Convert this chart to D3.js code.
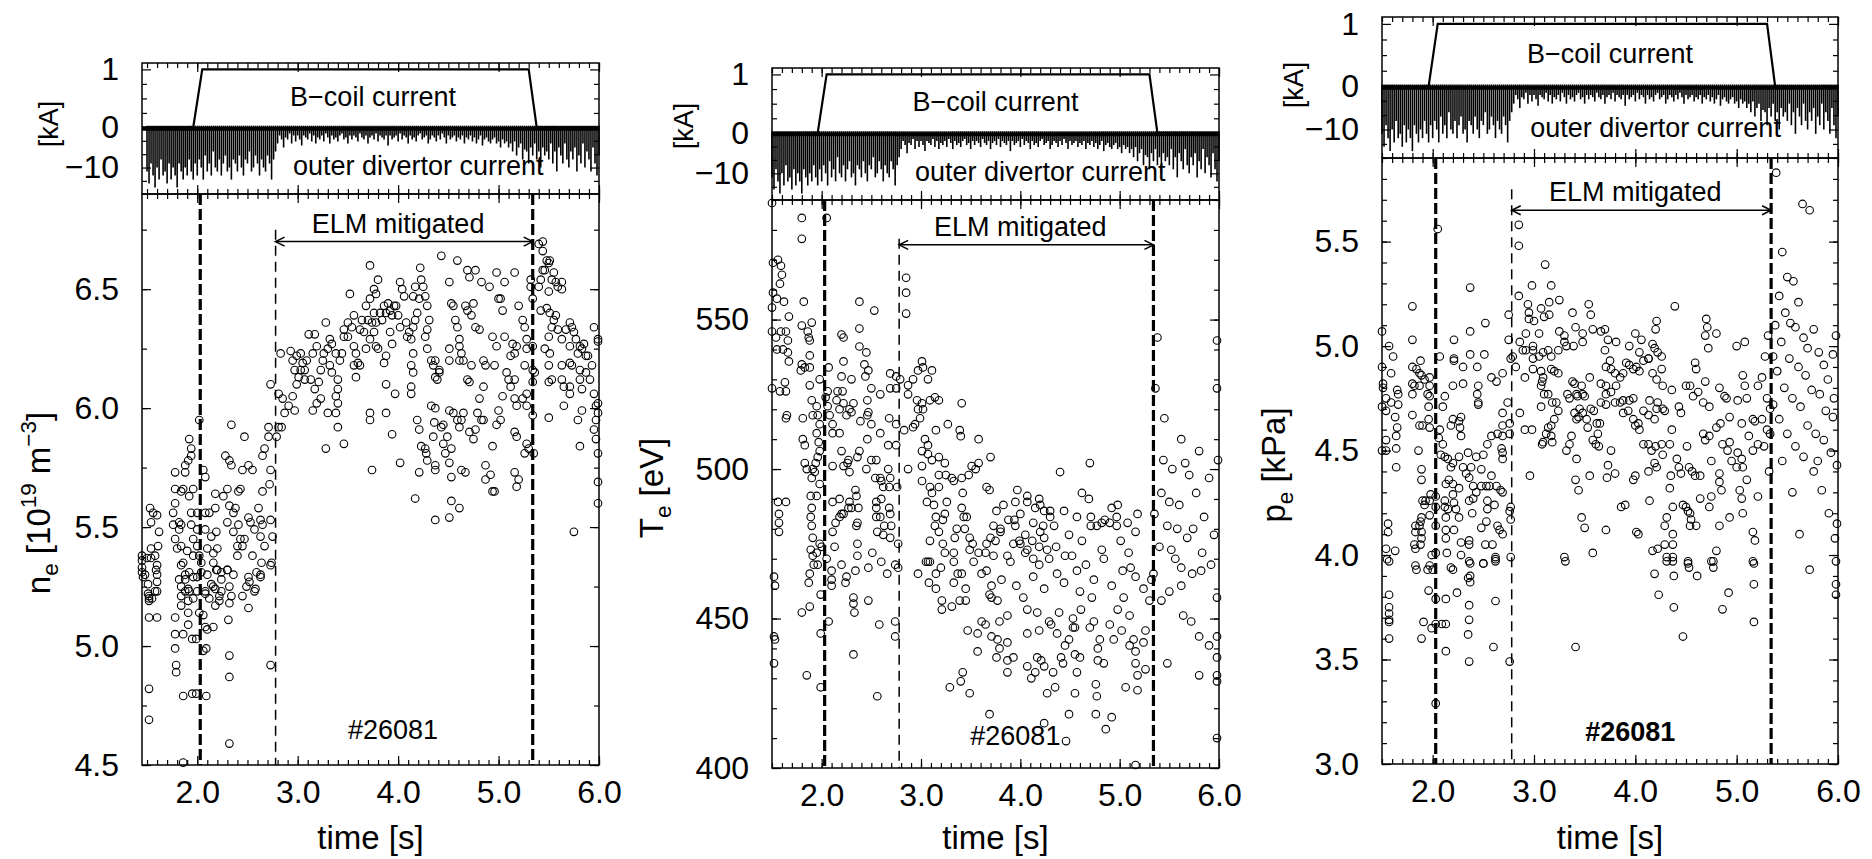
<!DOCTYPE html>
<html>
<head>
<meta charset="utf-8">
<script src="https://cdn.jsdelivr.net/npm/d3@7"></script>
<style>
body { margin: 0; background: #fff; }
svg text { font-family: "Liberation Sans", Arial, sans-serif; fill: #000; }
.axis text { font-size: 32px; font-family: "Liberation Sans", Arial, sans-serif; }
.axis line { stroke: #000; stroke-width: 1.2; }
</style>
</head>
<body>
<svg id="chart" width="1872" height="859"></svg>
<script>
///
/// DATA
///

const timeTicks = [2, 3, 4, 5, 6];
const neTicks = [4.5, 5.0, 5.5, 6.0, 6.5];
const teTicks = [400, 450, 500, 550];
const peTicks = [3.0, 3.5, 4.0, 4.5, 5.0, 5.5];
const kaTicks = [-10, 0, 1];
const kaMinor = [-13.33, -6.67, -3.33, 0.25, 0.5, 0.75];

// B-coil current [kA]
const bcoilCurrent = [[1.45, 0], [1.96, 0], [2.05, 1], [5.30, 1], [5.38, 0], [6.0, 0]];

// outer divertor current [kA], spike minima every 20 ms from 1.50 s
const divertorStart = 1.5;
const divertorStep = 0.02;
const divertorCurrent = [
  -11,-14,-9,-12,-15,-10,-13,-8,-12,-11,
  -14,-9,-13,-10,-12,-15,-9,-11,-13,-10,
  -12,-8,-11,-13,-9,-12,-8,-10,-13,-7,
  -11,-9,-12,-6,-10,-11,-8,-12,-9,-7,
  -11,-10,-13,-8,-9,-11,-7,-10,-12,-8,
  -9,-6,-11,-10,-7,-9,-12,-8,-10,-11,
  -7,-9,-13,-8,-6,-4,-2,-3,-5,-2.5,
  -3,-1.5,-4,-2,-3.5,-2,-3,-4.5,-2,-2.5,
  -3,-1.5,-3.5,-2,-4,-2.5,-3,-2,-3.5,-1.5,
  -2.5,-4,-2,-3,-2.5,-3.5,-2,-1.5,-3,-2.5,
  -4,-2,-3,-2,-2.5,-3.5,-1.5,-2.5,-3,-2,
  -4,-2.5,-2,-3,-1.5,-3.5,-2,-2.5,-3,-2,
  -4.5,-2,-3,-2.5,-2,-3.5,-1.5,-3,-2,-2.5,
  -4,-2,-3,-2.5,-3.5,-2,-1.5,-3,-2.5,-2,
  -4,-3,-2,-2.5,-3.5,-2,-3,-1.5,-2.5,-4,
  -2,-3,-2.5,-2,-3.5,-2.5,-3,-2,-4,-2.5,
  -3,-2,-3.5,-2.5,-4,-3,-2,-4.5,-3,-2.5,
  -3.5,-4,-3,-2.5,-4,-3.5,-5,-3,-4,-3.5,
  -5,-4,-6,-3.5,-7,-5,-4,-8,-5.5,-6,
  -9,-5,-7,-4,-8,-6,-10,-5,-7,-6,
  -8,-4,-9,-6,-11,-5,-7,-9,-4,-8,
  -10,-6,-8,-5,-11,-7,-9,-4,-10,-6,
  -8,-11,-5,-9,-12,-7
];

// phase markers [s]
const rmpOn = 2.03;
const rmpOff = 5.34;
const elmStart = 2.78;
const shotLabel = "#26081";

// electron density [1e19 m^-3]
const neData = [
  [1.45,5.38],[1.45,5.33],[1.48,5.30],[1.51,5.26],[1.51,5.22],[1.52,5.20],[1.58,5.23],[1.60,5.30],[1.60,5.34],[1.54,5.41],
  [1.61,5.42],[1.62,5.48],[1.56,5.56],[1.53,5.58],[1.60,5.55],[1.54,5.52],[1.50,5.37],[1.45,5.31],[1.54,5.37],[1.58,5.38],
  [1.45,5.36],[1.46,5.29],[1.52,5.21],[1.52,5.19],[1.52,5.12],[1.60,5.12],[1.60,5.23],[1.60,5.27],[1.59,5.32],[1.52,4.82],
  [1.52,4.69],[1.55,5.20],
  [1.78,5.73],[1.78,5.66],[1.78,5.60],[1.76,5.56],[1.76,5.51],[1.78,5.45],[1.80,5.41],[1.82,5.52],[1.84,5.65],[1.86,5.66],
  [1.88,5.73],[1.88,5.76],[1.91,5.78],[1.92,5.87],[1.94,5.83],[1.94,5.80],[1.96,5.66],[1.92,5.63],[1.94,5.56],[1.84,5.51],
  [1.82,5.49],[1.84,5.42],[1.86,5.35],[1.84,5.34],[1.88,5.30],[1.92,5.31],[1.84,5.25],[1.88,5.23],[1.92,5.23],[1.96,5.20],
  [1.82,5.28],[1.94,5.51],[1.96,5.45],[1.90,5.40],[1.96,5.38],
  [1.78,5.12],[1.78,5.05],[1.78,4.99],[1.79,4.92],[1.79,4.89],[1.86,5.05],[1.84,5.17],[1.84,5.21],[1.91,5.24],[1.91,5.19],
  [1.91,5.14],[1.91,5.09],[1.95,5.03],[1.86,4.79],[1.95,4.80],[1.86,4.51],[1.88,5.28],[1.96,5.29],
  [2.02,5.95],[2.00,5.56],[2.00,5.49],[2.00,5.42],[2.02,5.38],[2.04,5.35],[2.06,5.74],[2.08,5.71],[2.08,5.56],[2.08,5.49],
  [2.10,5.41],[2.12,5.56],[2.14,5.46],[2.16,5.39],[2.16,5.35],[2.18,5.64],[2.18,5.58],[2.19,5.48],[2.20,5.41],[2.20,5.32],
  [2.10,5.30],[2.08,5.23],[2.14,5.26],[2.12,5.20],[2.18,5.24],[2.22,5.21],
  [2.00,5.29],[2.00,5.23],[2.04,5.31],[2.02,5.14],[2.06,5.13],[2.08,5.22],[2.06,4.98],[2.09,4.99],[2.09,4.79],[1.99,4.80],
  [1.99,5.03],[2.10,5.07],[2.08,5.08],[2.16,5.08],[2.18,5.17],[2.16,5.25],[2.19,5.32],
  [2.28,5.80],[2.34,5.93],[2.32,5.78],[2.34,5.76],[2.30,5.66],[2.26,5.63],[2.32,5.59],[2.36,5.56],[2.38,5.58],[2.41,5.65],
  [2.43,5.66],[2.45,5.74],[2.47,5.88],[2.51,5.76],[2.55,5.74],[2.41,5.51],[2.43,5.45],[2.36,5.48],[2.30,5.52],[2.40,5.42],
  [2.45,5.42],[2.47,5.45],[2.51,5.54],[2.53,5.52],[2.57,5.49],[2.61,5.58],[2.63,5.53],[2.65,5.65],[2.65,5.80],[2.67,5.83],
  [2.71,5.88],[2.71,5.92],[2.73,5.74],[2.72,5.68],[2.65,5.51],[2.63,5.46],[2.67,5.42],[2.73,5.53],[2.75,5.46],[2.74,5.35],
  [2.59,5.31],[2.55,5.38],[2.40,5.38],[2.36,5.30],[2.30,5.32],[2.24,5.28],[2.24,5.23],[2.32,5.18],[2.45,5.21],[2.49,5.25],
  [2.51,5.29],[2.63,5.30],
  [2.24,5.31],[2.30,5.32],[2.32,5.25],[2.34,5.21],[2.22,5.19],[2.31,5.11],[2.32,4.96],[2.32,4.87],[2.32,4.59],[2.51,5.16],
  [2.52,5.27],[2.58,5.24],[2.63,5.29],[2.57,5.23],[2.64,5.35],[2.73,5.34],[2.73,4.92],
  [2.79,5.88],[2.81,5.92],[2.84,5.92],[2.83,6.23],[2.93,6.24],[2.73,6.10],[2.81,6.06],[2.85,6.04],[2.87,5.98],[2.91,6.01],
  [2.95,6.05],[2.95,6.20],[2.97,6.16],[2.99,6.10],[3.01,6.13],[3.03,6.16],[3.05,6.19],[3.07,6.16],[3.09,6.20],[3.11,6.31],
  [3.17,6.31],[3.19,6.26],[3.15,6.23],[3.13,6.12],[3.17,6.08],[3.21,6.11],[3.23,6.16],[3.25,6.20],[3.26,6.23],[3.28,6.36],
  [3.30,6.25],[3.32,6.29],[3.32,6.18],[3.38,6.23],[3.42,6.20],[3.40,6.12],[3.40,6.08],[3.38,6.05],[3.40,6.02],[3.38,5.98],
  [3.40,5.92],[3.30,5.98],[3.28,5.83],[3.46,5.85],[3.52,6.48],[3.46,6.33],[3.50,6.30],[3.54,6.34],[3.56,6.26],[3.58,6.23],
  [3.60,6.19],[3.62,6.18],[3.58,6.13],[3.56,6.18],[3.44,6.23],[3.34,6.27],[3.03,6.23],[2.99,6.22],[3.07,6.12],[2.97,5.99],
  [3.15,5.99],[3.19,6.02],[3.23,6.04],[3.34,6.15],[3.46,6.30],[3.50,6.36],[3.56,6.39],[3.62,6.33],[3.64,6.37],[3.66,6.32],
  [3.68,6.43],[3.72,6.46],[3.76,6.50],[3.78,6.48],[3.80,6.54],[3.82,6.40],[3.84,6.37],[3.86,6.43],[3.88,6.40],[3.90,6.44],
  [3.92,6.41],[3.94,6.39],[3.96,6.43],[3.72,6.60],[3.72,5.98],[3.72,5.95],[3.74,5.74],[3.88,6.10],[3.88,5.98],[3.94,5.89],
  [3.97,6.06],[3.76,6.32],[3.78,6.26],[3.72,6.29],[3.68,6.25],[3.88,6.22],[3.86,6.19],[3.92,6.32],[3.94,6.27],[3.74,6.36],
  [3.76,6.40],[3.70,6.37],[3.78,6.36],[3.80,6.25],
  [3.98,6.43],[4.00,6.39],[4.02,6.34],[4.02,6.53],[4.04,6.50],[4.06,6.47],[4.08,6.36],[4.09,6.30],[4.11,6.32],[4.13,6.29],
  [4.13,6.18],[4.15,6.15],[4.13,6.09],[4.13,6.06],[4.15,6.23],[4.15,6.34],[4.17,6.37],[4.19,6.40],[4.21,6.46],[4.22,6.59],
  [4.23,6.54],[4.25,6.51],[4.27,6.47],[4.29,6.43],[4.31,6.37],[4.29,6.33],[4.27,6.30],[4.29,6.25],[4.33,6.20],[4.35,6.18],
  [4.37,6.20],[4.37,6.13],[4.39,6.12],[4.41,6.15],[4.17,6.51],[4.15,6.47],[4.02,5.77],[4.19,5.95],[4.21,5.91],[4.21,5.73],
  [4.17,5.62],[4.23,5.84],[4.27,5.83],[4.28,5.81],[4.29,5.78],[4.33,6.01],[4.37,6.00],[4.35,5.88],[4.36,5.94],[4.37,5.76],
  [4.37,5.74],[4.37,5.53],[4.41,6.16],[4.43,5.92],[4.45,5.93],[4.45,5.85],[4.47,5.81],[4.43,6.64],[4.49,5.88],[4.51,5.99],
  [4.53,5.83],[4.51,5.77],[4.53,5.61],[4.51,5.54],[4.53,5.71],[4.59,6.62],[4.61,5.58],[4.55,5.98],[4.59,5.95],[4.61,5.92],
  [4.63,5.95],[4.65,5.98],[4.51,6.53],[4.53,6.44],[4.55,6.43],[4.57,6.37],[4.59,6.34],[4.61,6.29],[4.63,6.23],[4.65,6.20],
  [4.69,6.58],[4.77,6.58],[4.71,6.55],[4.67,6.43],[4.69,6.41],[4.75,6.44],[4.73,6.39],[4.77,6.34],[4.81,6.33],[4.61,6.26],
  [4.51,6.25],[4.51,6.20],[4.61,6.20],[4.69,6.12],[4.71,6.11],[4.73,6.18],[4.83,6.53],[4.91,6.51],[4.63,5.74],[4.67,5.73],
  [4.71,5.90],[4.75,5.87],[4.77,5.91],[4.79,5.98],[4.81,6.04],[4.85,6.09],[4.85,6.20],[4.87,6.18],[4.83,5.95],[4.85,5.95],
  [4.87,5.76],[4.92,5.72],[4.87,5.70],[4.94,5.84],[4.98,6.57],[5.00,6.46],[5.04,6.41],[5.02,6.46],[5.06,6.53],[5.08,6.15],
  [5.10,6.12],[5.12,6.09],[5.16,6.12],[5.12,6.22],[5.16,6.23],[5.18,6.26],[5.00,5.99],[5.02,5.95],[4.98,5.93],[5.04,6.05],
  [4.96,6.18],[4.94,6.30],[4.98,6.26],[5.06,6.30],[5.14,6.27],[5.16,6.04],[5.18,6.01],[5.16,5.90],[5.18,5.88],[5.20,5.70],
  [5.18,5.67],[4.96,5.65],[4.94,5.65],[5.16,5.73],
  [5.16,6.57],[5.20,6.43],[5.24,6.37],[5.26,6.34],[5.28,6.29],[5.28,6.25],[5.26,6.18],[5.28,6.06],[5.24,6.04],[5.28,6.01],
  [5.28,5.85],[5.30,5.83],[5.26,5.81],[5.32,6.54],[5.32,6.51],[5.34,6.46],[5.34,6.26],[5.34,6.16],[5.36,6.15],[5.34,6.11],
  [5.34,5.97],[5.35,5.81],[5.40,6.69],[5.44,6.70],[5.44,6.66],[5.48,6.62],[5.50,6.61],[5.46,6.58],[5.51,6.62],[5.53,6.54],
  [5.55,6.57],[5.57,6.53],[5.59,6.51],[5.63,6.53],[5.63,6.50],[5.44,6.58],[5.42,6.54],[5.40,6.51],[5.42,6.41],[5.50,6.49],
  [5.48,6.42],[5.51,6.40],[5.53,6.34],[5.55,6.37],[5.57,6.39],[5.50,6.30],[5.46,6.25],[5.51,6.23],[5.50,6.18],[5.50,6.11],
  [5.50,5.96],[5.53,6.12],[5.59,6.33],[5.63,6.29],[5.63,6.18],[5.63,6.12],[5.65,6.09],[5.65,6.01],[5.67,6.33],[5.71,6.26],
  [5.71,6.36],[5.73,6.34],[5.75,6.32],[5.77,6.29],[5.71,6.19],[5.79,6.23],[5.81,6.26],[5.83,6.25],[5.85,6.27],[5.87,6.22],
  [5.89,6.22],[5.91,6.12],[5.95,6.06],[5.97,6.01],[5.99,6.02],[5.99,5.98],[5.95,5.91],[5.97,5.95],[5.97,5.87],[5.99,5.81],
  [5.99,5.69],[5.99,5.60],[5.81,6.16],[5.81,6.12],[5.83,6.08],[5.83,5.99],[5.79,5.95],[5.81,5.84],[5.75,5.48],[5.71,6.06],
  [5.73,6.18],[5.71,6.09],[5.87,6.15],[5.93,6.18],[5.99,6.29],[5.95,6.34],[5.99,6.28]
];

// electron temperature [eV]
const teData = [
  [1.50,589],[1.80,584],[1.80,577],[2.05,584],[1.51,569],[1.56,570],[1.59,568],[1.60,565],[1.58,562],[1.51,559],
  [1.55,557],[1.62,556],[1.50,554],[1.67,551],[1.82,556],[1.80,548],[1.90,549],[1.86,546],[1.87,544],[1.88,543],
  [1.50,546],[1.54,544],[1.59,546],[1.64,546],[1.66,543],[1.55,540],[1.61,540],[1.66,539],[1.67,536],[1.88,538],
  [1.80,535],[1.79,533],[1.83,534],[1.88,534],[1.98,530],[1.63,529],[2.07,534],[2.20,545],[2.22,544],[2.22,536],
  [2.20,531],[2.30,530],[2.38,556],[2.38,547],[2.53,553],[2.38,541],[2.45,539],[2.43,535],[2.47,533],[2.44,531],
  [2.69,532],[2.75,531],[2.79,530],[2.85,564],[2.85,559],[2.85,552],[3.01,536],[2.97,533],[3.02,534],[3.11,533],
  [3.07,530],[2.92,530],[2.87,528],
  [1.49,527],[1.58,526],[1.64,526],[1.64,517],[1.65,518],[1.56,489],[1.57,485],[1.57,482],[1.57,479],[1.64,489],
  [1.81,517],[1.81,510],[1.83,508],[1.83,502],[1.85,500],[1.88,528],[1.90,523],[1.91,518],[1.95,521],[1.96,518],
  [1.98,515],[1.95,512],[1.97,509],[1.98,506],[1.96,504],[1.94,502],[1.91,500],[1.90,497],[1.93,499],[1.98,495],
  [1.89,491],[1.95,491],[1.90,487],[1.89,484],[1.90,481],[1.91,477],[1.98,475],[2.00,474],[1.89,473],[1.91,471],
  [1.95,472],[1.96,468],
  [2.04,524],[2.06,526],[2.06,521],[2.08,518],[2.11,515],[2.11,512],[2.11,501],[2.15,523],[2.16,526],[2.18,520],
  [2.21,526],[2.22,522],[2.28,520],[2.30,519],[2.32,522],[2.25,518],[2.18,512],[2.20,506],[2.22,501],[2.26,502],
  [2.28,499],[2.27,503],[2.36,504],[2.38,506],[2.34,493],[2.35,491],[2.11,489],[2.18,490],[2.28,489],[2.27,487],
  [2.20,485],[2.18,484],[2.14,482],[2.22,485],[2.30,487],[2.36,482],[2.35,481],[2.37,487],[2.11,479],[2.13,474],
  [2.05,470],[2.36,475],[2.36,471],
  [2.39,516],[2.46,518],[2.46,523],[2.47,519],[2.50,515],[2.46,510],[2.45,500],[2.50,503],[2.55,503],[2.54,497],
  [2.59,497],[2.60,496],[2.62,494],[2.68,494],[2.69,497],[2.67,500],[2.59,512],[2.68,517],[2.67,508],[2.75,515],
  [2.75,508],[2.76,494],[2.50,527],[2.59,525],[2.69,527],[2.75,527],[2.55,489],[2.60,490],[2.55,487],[2.55,484],
  [2.59,484],[2.68,487],[2.69,485],[2.63,481],[2.70,481],[2.56,479],[2.62,478],[2.69,477],[2.77,475],[2.51,472],
  [2.60,469],[2.77,467],
  [2.83,513],[2.87,525],[2.87,500],[2.92,514],[2.94,515],[2.96,523],[2.99,517],[3.01,522],[3.02,520],[2.97,520],
  [3.09,523],[3.14,524],[3.18,523],[3.04,510],[3.07,508],[3.01,506],[3.07,505],[3.11,503],[3.18,504],[3.24,502],
  [3.31,497],[3.33,496],[3.25,498],[3.18,498],[3.01,501],[3.01,496],[3.09,494],[3.18,494],[3.11,492],[3.06,489],
  [3.13,488],[3.26,489],[3.15,484],[3.24,485],[3.22,483],[3.14,481],[3.18,479],[3.41,487],[3.43,484],[3.46,484],
  [3.49,477],[3.52,475],[3.44,480],[3.36,480],[3.34,477],[3.41,497],[3.42,492],[3.48,498],[3.51,501],[3.55,500],
  [3.58,502],[3.66,494],[3.69,493],[3.70,504],[3.39,513],[3.40,511],[3.58,510],[3.41,522],[3.27,515],[3.15,513],
  [3.09,476],[3.22,475],[3.24,472],[3.33,472],[3.09,469],[3.07,469],[3.20,467],[3.33,469],[3.49,473],[3.53,469],
  [3.58,472],[3.65,472],[3.66,475],[3.70,477],[3.73,481],[3.76,486],[3.75,476],[3.80,480],[3.83,488],[3.88,483],
  [3.93,475],[3.95,481],[4.00,485],[4.05,478],[4.07,489],[4.12,476],[4.13,482],[4.15,487],[4.19,474],[4.23,481],
  [4.24,477],[4.30,484],[3.97,493],[4.07,491],[3.95,489],[4.00,475],[4.07,473],[4.19,490],[4.20,488],[4.24,486],
  [4.30,486],[4.40,499],[4.70,502],[4.62,492],[4.69,490],[4.71,484],[4.77,481],[4.82,482],[4.85,483],[4.90,482],
  [4.97,484],[4.98,488],[4.97,481],[4.71,481],[4.62,476],[4.57,484],[4.49,478],[4.45,471],[4.44,486],[4.36,474],
  [4.34,481],[4.27,473],[4.20,479],[4.13,470],[3.99,476],[3.94,483],[3.87,471],[3.80,479],[4.82,473],[4.92,487],
  [5.01,476],[5.08,482],[5.11,467],[5.16,479],[5.18,485],[3.66,466],[3.73,471],[3.81,463],[3.90,469],[3.96,461],
  [4.05,472],[4.13,464],[4.19,468],[4.24,460],[4.29,470],[4.37,465],[4.44,462],[4.52,471],[4.57,466],[4.60,459],
  [4.66,468],[4.74,463],[4.84,470],[4.92,461],[5.03,466],[5.09,472],[5.16,464],
  [1.52,464],[1.53,461],[1.52,444],[1.53,443],[1.52,435],[1.80,452],[1.88,454],[1.92,468],[1.88,465],[1.87,462],
  [1.85,431],[1.99,458],[1.99,445],[1.99,427],[2.07,449],[2.10,461],[2.10,463],[2.10,466],[2.20,468],[2.25,464],
  [2.24,462],[2.32,457],[2.32,455],[2.33,452],[2.34,466],[2.47,467],[2.47,456],[2.32,438],[2.58,448],[2.56,424],
  [2.66,465],[2.74,468],[2.74,449],[2.74,444],[2.97,465],[3.05,469],[3.08,462],[3.15,465],[3.15,460],[3.21,456],
  [3.21,453],[3.31,454],[3.33,462],[3.37,465],[3.39,456],[3.45,456],[3.41,465],[3.45,460],[3.47,446],[3.42,432],
  [3.40,429],[3.29,427],[3.49,425],[3.57,445],[3.57,439],[3.61,449],[3.61,465],[3.65,448],[3.69,458],[3.71,461],
  [3.71,457],[3.77,456],[3.79,449],[3.71,444],[3.77,443],[3.87,451],[3.87,442],[3.79,440],[3.76,437],[3.87,436],
  [3.93,437],[3.87,432],[4.03,457],[4.07,453],[4.07,445],[4.07,434],[4.11,430],[4.17,452],[4.19,446],[4.17,437],
  [4.21,436],[4.15,432],[4.24,434],[4.27,425],[4.29,449],[4.31,448],[4.33,432],[4.35,427],[4.37,445],[4.39,452],
  [4.41,437],[4.43,435],[4.45,441],[4.49,443],[4.53,450],[4.53,447],[4.55,447],[4.55,438],[4.57,432],[4.60,437],
  [4.55,425],[4.49,418],[4.24,415],[4.61,453],[4.70,447],[4.72,457],[4.74,449],[4.76,428],[4.78,436],[4.78,440],
  [4.80,443],[4.77,424],[4.76,418],[4.84,435],[4.86,413],[4.92,417],[4.94,443],[4.90,448],[4.98,453],[5.02,446],
  [5.04,457],[5.10,451],[5.10,441],[5.14,443],[5.06,427],[5.16,435],[5.18,426],[5.18,431],[5.16,439],[5.24,442],
  [5.26,446],[5.26,433],[5.16,401],[5.24,460],[5.30,456],[5.32,463],[5.34,465],[5.42,456],[5.48,435],[5.50,459],
  [5.62,461],[5.64,451],[5.62,467],[5.72,449],[5.80,444],[5.80,431],[5.82,466],[5.90,441],[5.98,457],[5.98,444],
  [5.98,437],[5.98,431],[5.98,429],[5.98,410],[4.46,409],[3.69,418],
  [5.38,544],[5.98,543],[5.98,527],[5.36,527],[5.45,517],[5.62,510],[5.80,506],[5.53,500],[5.70,498],[5.90,497],
  [5.42,492],[5.60,488],[5.85,484],[5.48,481],[5.74,480],[5.95,478],[5.40,474],[5.56,470],[5.68,477],[5.92,468],
  [5.50,489],[5.77,492],[5.66,502],[5.99,503],[5.44,503],[5.83,472],[5.58,480],[5.35,485],[5.73,465],[5.52,473]
];

// electron pressure [kPa]
const peData = [
  [2.85,5.58],[2.85,5.48],[2.05,5.56],[3.11,5.39],[2.98,5.29],[3.17,5.29],[2.37,5.28],[2.85,5.24],[1.80,5.19],[4.39,5.19],
  [3.25,5.22],[3.15,5.21],[2.94,5.20],[3.07,5.18],[3.54,5.20],[2.75,5.15],[2.95,5.16],[3.15,5.15],[2.95,5.13],[3.00,5.12],
  [3.38,5.16],[3.56,5.15],[3.10,5.14],[2.52,5.11],[2.37,5.07],[2.21,5.03],[1.80,5.03],[1.50,5.07],[2.75,5.03],[2.92,5.06],
  [3.05,5.06],[3.25,5.07],[3.30,5.05],[3.41,5.09],[3.48,5.06],[3.58,5.08],[3.66,5.07],[3.70,5.08],[3.73,5.03],[3.81,5.02],
  [4.00,5.06],[4.06,5.03],[4.21,5.12],[4.20,5.08],[4.70,5.13],[4.71,5.09],[4.80,5.06],[4.69,5.05],[4.72,4.99],[5.00,5.00],
  [5.08,5.02],[3.48,5.02],[3.30,5.02],[3.32,5.00],[3.39,5.00],[3.70,4.98],[3.94,5.00],[4.04,4.97],[4.13,4.94],[4.17,5.01],
  [4.19,4.99],[4.22,4.97],[4.26,4.95],[2.86,5.02],[2.89,4.98],[2.92,4.98],[2.99,5.00],[2.99,4.98],[3.09,4.97],[3.14,4.98],
  [3.24,4.98],[1.57,5.00],[1.61,4.95],[1.88,4.93],[2.07,4.95],[2.21,4.94],[2.37,4.96],[2.51,4.96],[2.77,4.94],
  [1.50,4.90],[1.51,4.82],[1.51,4.80],[1.50,4.71],[1.54,4.69],[1.54,4.75],[1.59,4.87],[1.59,4.73],[1.65,4.79],[1.66,4.77],
  [1.66,4.72],[1.63,4.66],[1.65,4.61],[1.64,4.57],[1.54,4.55],[1.50,4.50],[1.54,4.50],[1.64,4.51],[1.64,4.42],[1.56,4.15],
  [1.56,4.11],[1.54,4.03],[1.63,4.02],[1.55,3.98],
  [1.80,4.90],[1.80,4.82],[1.82,4.81],[1.80,4.77],[1.80,4.67],[1.84,4.89],[1.87,4.87],[1.87,4.81],[1.89,4.86],[1.92,4.84],
  [1.97,4.85],[1.97,4.81],[1.95,4.77],[1.97,4.76],[1.96,4.71],[1.96,4.65],[1.87,4.62],[1.90,4.62],[1.97,4.61],[1.86,4.50],
  [1.89,4.41],[1.89,4.36],[1.93,4.26],[1.90,4.26],[1.92,4.24],[1.89,4.18],[1.88,4.16],[1.87,4.14],[1.83,4.14],[1.83,4.11],
  [1.89,4.11],[1.89,4.08],[1.82,4.05],[1.88,4.05],[1.83,4.03],[1.83,3.95],[1.97,4.19],[1.97,4.26],[1.98,4.29],[1.99,4.00],
  [1.97,3.95],[2.03,4.28],[2.03,4.23],[2.03,4.14],[2.03,4.01],
  [2.07,4.60],[2.06,4.56],[2.08,4.48],[2.10,4.53],[2.12,4.76],[2.20,4.81],[2.21,4.93],[2.30,4.90],[2.30,4.82],[2.18,4.62],
  [2.20,4.65],[2.26,4.64],[2.28,4.66],[2.27,4.61],[2.28,4.57],[2.10,4.71],[2.20,4.44],[2.26,4.47],[2.12,4.47],[2.15,4.46],
  [2.18,4.42],[2.20,4.34],[2.13,4.34],[2.16,4.36],[2.12,4.26],[2.12,4.23],[2.15,4.22],[2.13,4.18],[2.13,4.12],[2.13,4.08],
  [2.21,4.25],[2.23,4.22],[2.20,4.29],[2.26,4.32],[2.26,4.18],[2.21,4.12],[2.28,4.06],[2.36,4.07],[2.36,4.05],[2.28,4.00],
  [2.36,3.97],[2.14,4.01],[2.18,3.94],[2.36,4.37],[2.30,4.42],[2.33,4.39],[2.38,4.42],[2.35,4.49],[2.36,4.26],[2.40,4.33],
  [2.43,4.47],[2.44,4.77],[2.45,4.73],[2.45,4.72],[2.45,4.81],[2.44,4.90],[2.39,4.20],[2.40,4.27],[2.43,4.30],[2.48,4.33],
  [2.48,4.41],[2.48,4.13],
  [2.50,4.48],[2.54,4.53],[2.53,4.33],[2.56,4.33],[2.54,4.26],[2.54,4.22],[2.53,4.16],[2.58,4.57],[2.58,4.85],[2.63,4.83],
  [2.68,4.51],[2.69,4.49],[2.69,4.46],[2.69,4.62],[2.69,4.57],[2.64,4.58],[2.58,4.38],[2.63,4.33],[2.67,4.31],[2.69,4.30],
  [2.61,4.24],[2.64,4.14],[2.66,4.12],[2.69,4.10],[2.59,4.05],[2.52,4.05],[2.62,3.99],[2.62,3.98],[2.50,3.96],[2.69,4.87],
  [2.74,4.73],[2.69,4.68],[2.76,4.63],[2.76,4.58],[2.77,4.17],[2.77,4.23],[2.76,4.21],[2.77,3.99],[2.79,4.95],[2.82,4.90],
  [2.86,4.68],[2.91,4.60],[2.91,4.85],[2.99,4.94],[2.99,4.89],[3.05,4.95],[3.07,4.88],[3.09,4.85],[3.08,4.83],[3.07,4.81],
  [3.10,4.77],[3.14,4.77],[3.17,4.95],[3.17,4.89],[3.20,4.88],[3.24,4.87],[3.18,4.73],[3.22,4.73],[3.24,4.69],[3.20,4.65],
  [3.17,4.62],[3.14,4.61],[3.12,4.58],[3.09,4.54],[3.08,4.53],[3.17,4.57],[3.18,4.54],[3.07,4.71],[2.98,4.60],[2.96,4.38],
  [3.32,4.50],[3.33,4.77],[3.35,4.75],[3.38,4.83],[3.40,4.82],[3.42,4.77],[3.43,4.76],[3.45,4.70],[3.47,4.81],[3.48,4.77],
  [3.50,4.76],[3.52,4.65],[3.53,4.61],[3.40,4.68],[3.42,4.65],[3.44,4.66],[3.48,4.68],[3.37,4.57],[3.35,4.53],[3.56,4.70],
  [3.59,4.69],[3.55,4.85],[3.62,4.63],[3.63,4.58],[3.65,4.63],[3.66,4.73],[3.66,4.82],[3.71,4.81],[3.71,4.90],[3.71,4.77],
  [3.71,4.72],[3.58,4.55],[3.61,4.53],[3.64,4.52],[3.42,4.46],[3.44,4.31],[3.41,4.36],[3.55,4.38],[3.47,4.18],[3.50,4.13],
  [3.30,3.99],[3.58,4.01],[3.71,4.12],[3.72,4.37],[3.73,4.43],[3.76,4.50],[3.80,4.39],[3.86,4.23],
  [3.75,4.93],[3.76,4.89],[3.80,4.87],[3.81,4.81],[3.85,4.85],[3.88,4.87],[3.91,4.92],[3.94,4.91],[3.98,4.89],[4.01,4.90],
  [4.04,4.88],[4.08,4.93],[4.13,4.94],[4.17,4.87],[4.21,4.84],[4.26,4.89],[4.27,4.81],[3.76,4.78],[3.80,4.73],[3.85,4.73],
  [3.88,4.74],[3.94,4.74],[3.98,4.75],[3.88,4.68],[3.93,4.69],[3.98,4.65],[4.00,4.62],[4.03,4.63],[4.04,4.60],[4.08,4.69],
  [4.13,4.67],[4.14,4.74],[4.19,4.65],[4.21,4.70],[4.22,4.73],[4.27,4.70],[4.29,4.69],[4.36,4.79],[4.43,4.71],[4.45,4.68],
  [4.50,4.81],[4.54,4.81],[4.57,4.76],[4.59,4.92],[4.60,4.89],[4.62,4.78],[4.67,4.73],[4.69,4.83],[4.73,4.71],[4.83,4.80],
  [4.88,4.76],[4.90,4.75],[4.93,4.66],[5.01,4.74],[5.05,4.63],[5.06,4.86],[5.08,4.81],[5.10,4.75],[5.16,4.65],[5.18,4.64],
  [5.21,4.81],
  [4.08,4.53],[4.13,4.53],[4.16,4.50],[4.20,4.52],[4.26,4.53],[4.27,4.48],[4.34,4.53],[4.36,4.60],[4.41,4.46],[4.43,4.42],
  [4.45,4.39],[4.51,4.52],[4.53,4.42],[4.56,4.40],[4.59,4.38],[4.64,4.38],[4.67,4.58],[4.69,4.55],[4.73,4.57],[4.75,4.45],
  [4.80,4.61],[4.84,4.63],[4.86,4.53],[4.91,4.50],[4.93,4.54],[4.95,4.45],[5.00,4.42],[5.01,4.49],[5.05,4.46],[5.06,4.42],
  [5.10,4.36],[5.03,4.31],[5.12,4.57],[5.16,4.50],[5.21,4.53],[5.21,4.28],[5.18,4.07],[5.16,3.97],[4.83,4.39],[4.83,4.35],
  [4.85,4.31],[4.75,4.28],[4.73,4.23],[4.64,4.27],[4.50,4.23],[4.52,4.21],[4.54,4.20],[4.55,4.17],[4.54,4.14],[4.60,4.14],
  [4.47,4.24],[4.37,4.23],[4.31,4.18],[4.29,4.14],[4.35,4.38],[4.34,4.32],[4.21,4.42],[4.14,4.26],[4.00,4.38],[3.98,4.36],
  [4.13,4.40],[4.19,4.44],[3.90,4.24],[4.01,4.11],[4.03,4.10],[4.17,4.02],[4.22,4.03],[4.31,3.99],[4.29,4.05],[4.37,4.10],
  [4.37,4.05],[4.37,3.99],[4.52,3.97],[4.75,3.97],[4.80,4.02],[4.93,4.18],[4.83,4.14],[5.05,4.27],[5.06,4.20],[5.16,4.11],
  [1.57,3.97],[1.57,3.81],[1.57,3.75],[1.57,3.72],[1.57,3.69],[1.57,3.68],[1.57,3.60],[1.84,3.93],[1.95,3.93],[2.00,3.93],
  [1.96,3.83],[1.91,3.68],[1.89,3.60],[1.99,3.65],[2.03,3.67],[2.03,3.79],[2.03,3.29],[2.09,3.67],[2.13,3.67],[2.13,3.79],
  [2.13,3.54],[2.20,3.93],[2.24,3.82],[2.35,3.89],[2.37,3.90],[2.37,3.96],[2.37,3.87],[2.36,3.76],[2.36,3.69],[2.35,3.62],
  [2.36,3.49],[2.50,3.96],[2.62,3.97],[2.62,3.78],[2.60,3.56],[2.76,3.49],[3.31,3.97],[3.41,3.56],[4.19,3.91],[4.23,3.81],
  [4.31,3.97],[4.37,3.97],[4.38,3.90],[4.38,3.75],[4.47,3.61],[4.52,3.96],[4.53,3.94],[4.61,3.90],[4.77,3.97],[4.77,3.94],
  [4.86,3.74],[4.92,3.82],[5.17,3.96],[5.17,3.86],[5.17,3.68],[5.72,3.93],[5.98,3.97],[5.98,3.86],[5.98,3.81],
  [5.39,5.83],[5.65,5.68],[5.72,5.65],[5.45,5.45],[5.50,5.33],[5.56,5.31],[5.42,5.24],[5.61,5.21],[5.48,5.16],[5.53,5.11],
  [5.58,5.09],[5.66,5.04],[5.70,4.99],[5.76,5.08],[5.81,4.97],[5.86,4.91],[5.90,4.84],[5.95,4.96],[5.98,5.05],[5.44,5.02],
  [5.52,4.94],[5.61,4.90],[5.68,4.86],[5.74,4.79],[5.82,4.77],[5.88,4.69],[5.95,4.66],[5.40,4.88],[5.47,4.80],[5.55,4.75],
  [5.63,4.71],[5.70,4.62],[5.78,4.58],[5.86,4.55],[5.93,4.49],[5.99,4.43],[5.42,4.65],[5.50,4.58],[5.58,4.52],[5.66,4.47],
  [5.76,4.40],[5.84,4.31],[5.91,4.20],[5.97,4.08],[5.99,4.15],[5.62,4.10],[5.55,4.30],[5.45,4.45],[5.80,4.45],[5.96,4.75],
  [5.38,5.10],[5.36,4.95],[5.36,4.72],[5.25,4.85],[5.28,4.95],[5.30,4.60],[5.33,4.58],[5.33,4.70],[5.30,4.75],[5.27,4.52],
  [5.32,4.40],[5.25,4.65],[5.31,5.05]
];

///
/// LAYOUT
///

const panels = [
  { data: neData, xDomain: [1.45, 6.0], yDomain: [4.5, 6.9], yTicks: neTicks, yMinorStep: 0.25, yFormat: ".1f",
    left: 142, right: 599, top: 63, mid: 194, bottom: 765,
    ylabel: [["n", ""], ["e", "sub"], [" [10", ""], ["19", "sup"], [" m", ""], ["\u22123", "sup"], ["]", ""]],
    ylabelX: 50, ylabelY: 503, kaX: 58, kaY: 124, elmY: 6.70, elmTop: 6.75, shotY: 4.61, shotWeight: "normal" },
  { data: teData, xDomain: [1.5, 6.0], yDomain: [400, 590], yTicks: teTicks, yMinorStep: 10, yFormat: "d",
    left: 772, right: 1219, top: 68, mid: 200, bottom: 768,
    ylabel: [["T", ""], ["e", "sub"], [" [eV]", ""]],
    ylabelX: 663, ylabelY: 488, kaX: 693, kaY: 126, elmY: 575, elmTop: 577, shotY: 407.6, shotWeight: "normal" },
  { data: peData, xDomain: [1.5, 6.0], yDomain: [3.0, 5.9], yTicks: peTicks, yMinorStep: 0.1, yFormat: ".1f",
    left: 1382, right: 1838, top: 17, mid: 158, bottom: 764,
    ylabel: [["p", ""], ["e", "sub"], [" [kPa]", ""]],
    ylabelX: 1285, ylabelY: 465, kaX: 1303, kaY: 85, elmY: 5.65, elmTop: 5.75, shotY: 3.11, shotWeight: "bold" }
];

const svg = d3.select("#chart");
svg.append("rect").attr("width", 1872).attr("height", 859).attr("fill", "#fff");

svg.append("defs").append("marker")
    .attr("id", "arrowhead")
    .attr("viewBox", "-12 -7 14 14")
    .attr("refX", 0).attr("refY", 0)
    .attr("markerWidth", 14).attr("markerHeight", 14)
    .attr("markerUnits", "userSpaceOnUse")
    .attr("orient", "auto-start-reverse")
    .append("path")
    .attr("d", "M-9,-4.5L0,0L-9,4.5")
    .attr("fill", "none")
    .attr("stroke", "#000")
    .attr("stroke-width", 1.5);

// rotated label with sub/superscripts
function rotatedLabel(parent, parts, x, y, size) {
    const t = parent.append("text")
        .attr("transform", `translate(${x},${y}) rotate(-90)`)
        .attr("text-anchor", "middle")
        .attr("font-size", size);
    let shift = 0;
    parts.forEach(([txt, kind]) => {
        const target = kind === "sub" ? 0.25 * size : kind === "sup" ? -0.42 * size : 0;
        const ts = t.append("tspan").attr("dy", target - shift).text(txt);
        if (kind) ts.attr("font-size", size * 0.68);
        shift = target;
    });
}

// frame with inward ticks on all four sides
function frameAxes(g, x, y, y0, y1, yTicks, yMinor, yFormat, xLabels) {
    const [x0, x1] = x.range();
    const xMinor = d3.range(1.5, 6.001, 0.1);
    const add = (axis, tx, ty) => g.append("g")
        .attr("class", "axis")
        .attr("transform", `translate(${tx},${ty})`)
        .call(axis)
        .call(a => a.select(".domain").remove());

    add(d3.axisBottom(x).tickValues(xMinor).tickSize(-5).tickFormat(""), 0, y0);
    add(d3.axisBottom(x).tickValues(timeTicks).tickSize(-9).tickPadding(15)
        .tickFormat(xLabels ? d3.format(".1f") : ""), 0, y0);
    add(d3.axisTop(x).tickValues(xMinor).tickSize(-5).tickFormat(""), 0, y1);
    add(d3.axisTop(x).tickValues(timeTicks).tickSize(-9).tickFormat(""), 0, y1);
    add(d3.axisLeft(y).tickValues(yMinor).tickSize(-5).tickFormat(""), x0, 0);
    add(d3.axisLeft(y).tickValues(yTicks).tickSize(-9).tickPadding(23).tickFormat(yFormat), x0, 0);
    add(d3.axisRight(y).tickValues(yMinor).tickSize(-5).tickFormat(""), x1, 0);
    add(d3.axisRight(y).tickValues(yTicks).tickSize(-9).tickFormat(""), x1, 0);

    g.append("rect")
        .attr("x", x0).attr("y", y1)
        .attr("width", x1 - x0).attr("height", y0 - y1)
        .attr("fill", "none")
        .attr("stroke", "#000")
        .attr("stroke-width", 1.5);
}

function drawPanel(p) {
    const g = svg.append("g");

    const x = d3.scaleLinear().domain(p.xDomain).range([p.left, p.right]).clamp(true);
    const y = d3.scaleLinear().domain(p.yDomain).range([p.bottom, p.mid]);
    const zeroY = p.top + (p.mid - p.top) * 0.492;
    const yk = d3.scaleLinear().domain([-16.6, 0, 1.11]).range([p.mid, zeroY, p.top]);

    ///
    /// TOP: coil and divertor currents
    ///
    g.append("g").selectAll("line")
        .data(divertorCurrent)
        .join("line")
        .attr("x1", (d, i) => x(divertorStart + i * divertorStep))
        .attr("x2", (d, i) => x(divertorStart + i * divertorStep))
        .attr("y1", yk(0.03))
        .attr("y2", d => yk(d))
        .attr("stroke", "#000")
        .attr("stroke-width", 1.6);

    g.append("line")
        .attr("x1", p.left).attr("x2", p.right)
        .attr("y1", yk(-0.3)).attr("y2", yk(-0.3))
        .attr("stroke", "#000")
        .attr("stroke-width", 4);

    g.append("path")
        .datum(bcoilCurrent)
        .attr("d", d3.line().x(d => x(d[0])).y(d => yk(d[1])))
        .attr("fill", "none")
        .attr("stroke", "#000")
        .attr("stroke-width", 2.2);

    g.append("text")
        .attr("x", x(3.75)).attr("y", yk(0.37))
        .attr("text-anchor", "middle").attr("font-size", 27)
        .text("B\u2212coil current");
    g.append("text")
        .attr("x", x(4.2)).attr("y", yk(-11.8))
        .attr("text-anchor", "middle").attr("font-size", 27)
        .text("outer divertor current");

    frameAxes(g, x, yk, p.mid, p.top, kaTicks, kaMinor, d3.format("d"), false);

    g.append("text")
        .attr("transform", `translate(${p.kaX},${p.kaY}) rotate(-90)`)
        .attr("text-anchor", "middle").attr("font-size", 27)
        .text("[kA]");

    ///
    /// BOTTOM: profile data
    ///
    const yMinor = d3.range(p.yDomain[0], p.yDomain[1] + 1e-6, p.yMinorStep);

    g.append("g").selectAll("circle")
        .data(p.data)
        .join("circle")
        .attr("cx", d => x(d[0]))
        .attr("cy", d => y(d[1]))
        .attr("r", 3.8)
        .attr("fill", "none")
        .attr("stroke", "#000")
        .attr("stroke-width", 1.1);

    // RMP on / off
    [rmpOn, rmpOff].forEach(t => {
        g.append("line")
            .attr("x1", x(t)).attr("x2", x(t))
            .attr("y1", y(p.yDomain[1])).attr("y2", y(p.yDomain[0]))
            .attr("stroke", "#000")
            .attr("stroke-width", 3.2)
            .attr("stroke-dasharray", "11,4");
    });
    g.append("line")
        .attr("x1", x(elmStart)).attr("x2", x(elmStart))
        .attr("y1", y(p.elmTop)).attr("y2", y(p.yDomain[0]))
        .attr("stroke", "#000")
        .attr("stroke-width", 1.5)
        .attr("stroke-dasharray", "10,6");

    g.append("line")
        .attr("x1", x(elmStart)).attr("x2", x(rmpOff))
        .attr("y1", y(p.elmY)).attr("y2", y(p.elmY))
        .attr("stroke", "#000")
        .attr("stroke-width", 1.5)
        .attr("marker-start", "url(#arrowhead)")
        .attr("marker-end", "url(#arrowhead)");

    g.append("text")
        .attr("x", x(4.0)).attr("y", y(p.elmY) - 9)
        .attr("text-anchor", "middle").attr("font-size", 27)
        .text("ELM mitigated");

    g.append("text")
        .attr("x", x(3.95)).attr("y", y(p.shotY))
        .attr("text-anchor", "middle").attr("font-size", 27)
        .attr("font-weight", p.shotWeight)
        .text(shotLabel);

    frameAxes(g, x, y, p.bottom, p.mid, p.yTicks, yMinor, d3.format(p.yFormat), true);

    rotatedLabel(g, p.ylabel, p.ylabelX, p.ylabelY, 33);

    g.append("text")
        .attr("x", (p.left + p.right) / 2).attr("y", 849)
        .attr("text-anchor", "middle").attr("font-size", 33)
        .text("time [s]");
}

panels.forEach(drawPanel);
</script>
</body>
</html>
